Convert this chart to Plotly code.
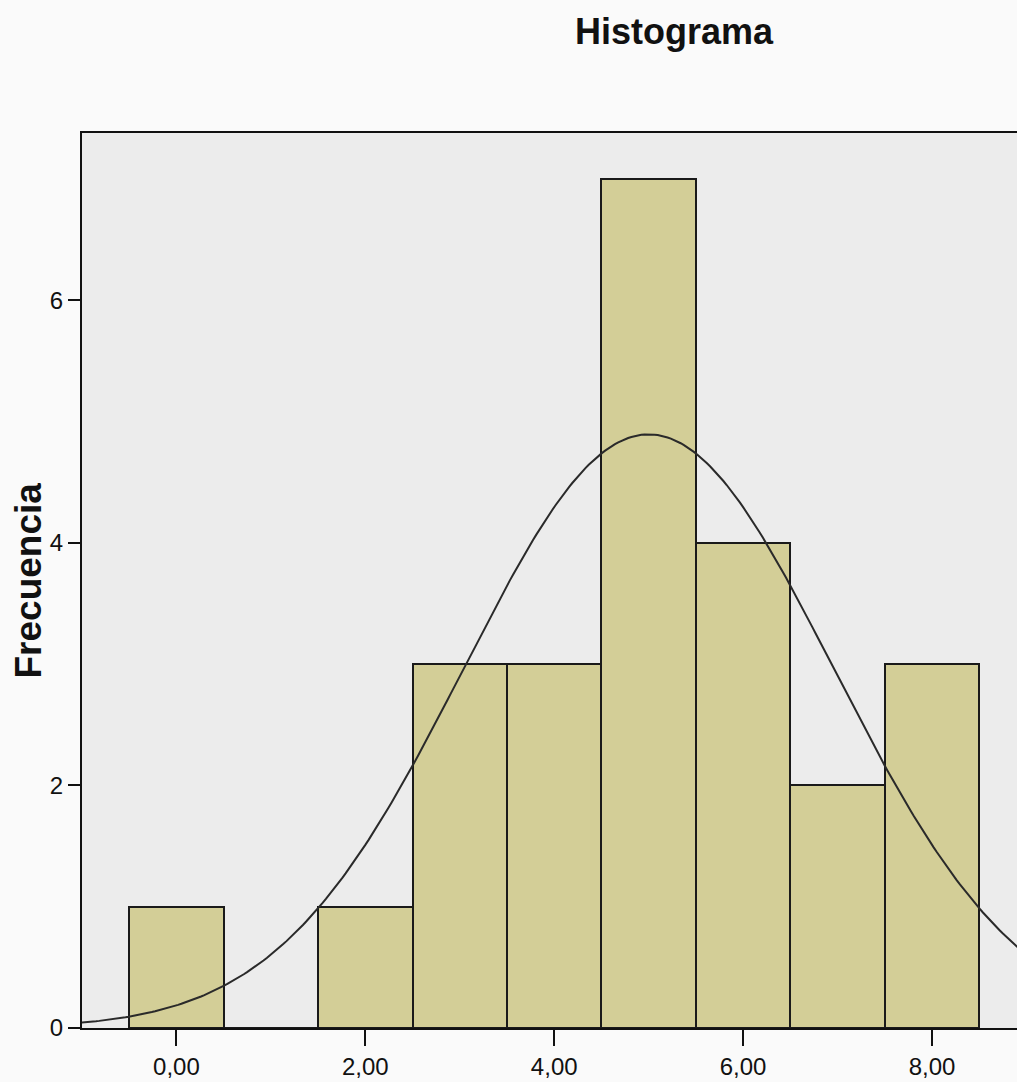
import numpy as np
import plotly.graph_objects as go

# Histogram data (bin centers and counts)
bin_centers = [0, 1, 2, 3, 4, 5, 6, 7, 8]
counts = [1, 0, 1, 3, 3, 7, 4, 2, 3]
x_tick_vals = [0, 2, 4, 6, 8]
x_tick_text = ["0,00", "2,00", "4,00", "6,00", "8,00"]
y_tick_vals = [0, 2, 4, 6]
y_tick_text = ["0", "2", "4", "6"]

# Normal curve fitted to the histogram data (as SPSS draws it)
c = np.array(bin_centers, dtype=float)
n = np.array(counts, dtype=float)
N = n.sum()
mean = (c * n).sum() / N
sd = np.sqrt(((c - mean) ** 2 * n).sum() / (N - 1))
xs = np.linspace(-1.2, 9.2, 300)
ys = N * 1.0 / (sd * np.sqrt(2 * np.pi)) * np.exp(-0.5 * ((xs - mean) / sd) ** 2)

fig = go.Figure()
fig.add_trace(go.Bar(
    x=bin_centers, y=counts, width=1,
    marker=dict(color="#d3ce97", line=dict(color="#1a1a1a", width=2)),
    showlegend=False, hoverinfo="x+y",
))
fig.add_trace(go.Scatter(
    x=xs, y=ys, mode="lines",
    line=dict(color="#2a2a2a", width=2),
    showlegend=False, hoverinfo="skip",
))

fig.update_layout(
    width=1017, height=1082,
    margin=dict(l=82, r=0, t=133, b=54),
    paper_bgcolor="#fafafa",
    plot_bgcolor="#ececec",
    font=dict(family="Liberation Sans, Arial, sans-serif", color="#111111", size=24),
    bargap=0,
    title=dict(text="<b>Histograma</b>", xref="container", x=674/1017, xanchor="center",
               yref="container", y=1 - 31/1082, yanchor="middle",
               font=dict(size=36, color="#111111")),
    xaxis=dict(range=[-1.0, 8.9], tickvals=x_tick_vals, ticktext=x_tick_text,
               showgrid=False, zeroline=False, showline=True, linecolor="#111111",
               linewidth=2, mirror=True, ticks="outside", ticklen=16, tickwidth=2,
               tickcolor="#111111", tickfont=dict(size=24)),
    yaxis=dict(range=[0, 7.38], tickvals=y_tick_vals, ticktext=y_tick_text,
               showgrid=False, zeroline=False, showline=True, linecolor="#111111",
               linewidth=2, ticks="outside", ticklen=12, tickwidth=2,
               tickcolor="#111111", tickfont=dict(size=24)),
    annotations=[dict(text="<b>Frecuencia</b>", textangle=-90, xref="paper", yref="paper",
                      x=(28 - 82) / 935, y=0.5, xanchor="center", yanchor="middle",
                      showarrow=False, font=dict(size=37, color="#111111"))],
)

fig.write_html("out.html", config={"displayModeBar": False},
               post_script="document.body.style.margin='0px';")
